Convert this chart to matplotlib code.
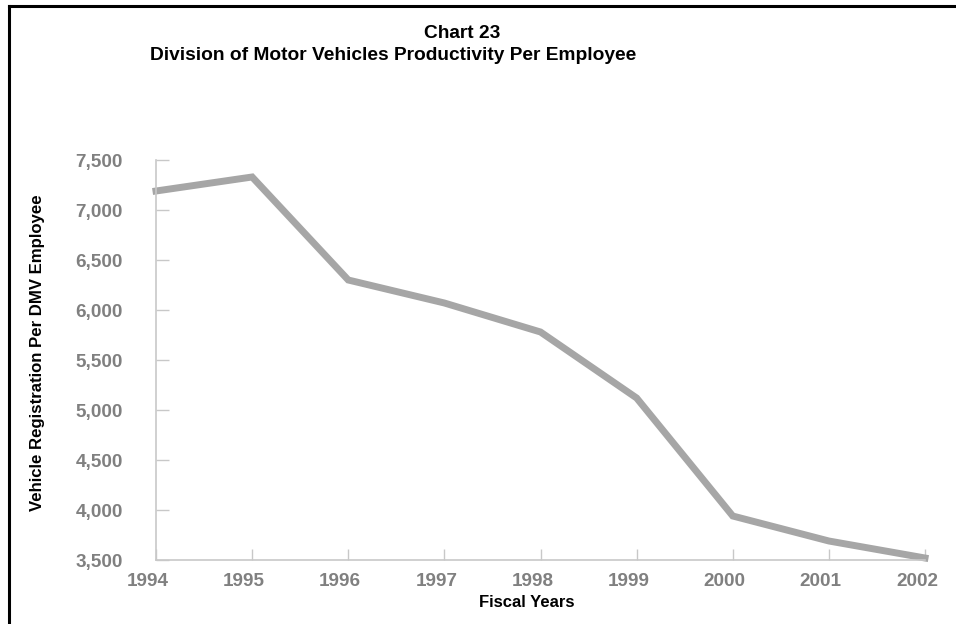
import matplotlib.pyplot as plt
from matplotlib.lines import Line2D
from matplotlib.ticker import FuncFormatter
from matplotlib.transforms import ScaledTranslation

years = [1994, 1995, 1996, 1997, 1998, 1999, 2000, 2001, 2002]
per_employee = [7190, 7330, 6300, 6070, 5780, 5120, 3940, 3690, 3520]
y_ticks = [3500, 4000, 4500, 5000, 5500, 6000, 6500, 7000, 7500]

plt.rcParams['font.family'] = ['Liberation Sans', 'DejaVu Sans']

fig = plt.figure(figsize=(9.56, 6.24), dpi=100)
ax = fig.add_axes([156/956, 1-560/624, (925-156)/956, 400/624])

ax.plot(years, per_employee, color='#a6a6a6', lw=5, solid_joinstyle='miter', clip_on=False)

ax.set_xlim(1994, 2002)
ax.set_ylim(3500, 7500)
ax.set_xticks(years)
ax.set_yticks(y_ticks)
ax.yaxis.set_major_formatter(FuncFormatter(lambda v, p: f'{int(v):,}'))

for s in ['top', 'right']:
    ax.spines[s].set_visible(False)
for s in ['left', 'bottom']:
    ax.spines[s].set_color('#c8c8c8')
    ax.spines[s].set_linewidth(1.2)

ax.tick_params(axis='y', direction='in', length=9, width=1, color='#c8c8c8',
               pad=24, labelsize=13.6, labelcolor='#808080')
ax.tick_params(axis='x', direction='in', length=8, width=1, color='#c8c8c8',
               pad=9.5, labelsize=13.6, labelcolor='#808080')
shift = ScaledTranslation(-8/100, 0, fig.dpi_scale_trans)
for t in ax.get_xticklabels():
    t.set_fontweight('bold')
    t.set_transform(t.get_transform() + shift)
for t in ax.get_yticklabels():
    t.set_fontweight('bold')

ax.set_xlabel('Fiscal Years', fontsize=12, fontweight='bold')
ax.xaxis.set_label_coords((527-156)/769, (560-595)/400)
ax.set_ylabel('Vehicle Registration Per DMV Employee', fontsize=12.1, fontweight='bold')
ax.yaxis.set_label_coords((45-156)/769, (560-353)/400)

fig.text(462/956, 1-33/624, 'Chart 23', ha='center', va='center', fontsize=13.8, fontweight='bold')
fig.text(393/956, 1-55/624, 'Division of Motor Vehicles Productivity Per Employee',
         ha='center', va='center', fontsize=13.8, fontweight='bold')

# frame (only top and left edges visible)
fig.add_artist(Line2D([9/956, 9/956], [0, 1-6/624], color='black', lw=2.2, transform=fig.transFigure))
fig.add_artist(Line2D([9/956, 1], [1-6/624, 1-6/624], color='black', lw=2.2, transform=fig.transFigure))

fig.savefig('out.png', dpi=100)
